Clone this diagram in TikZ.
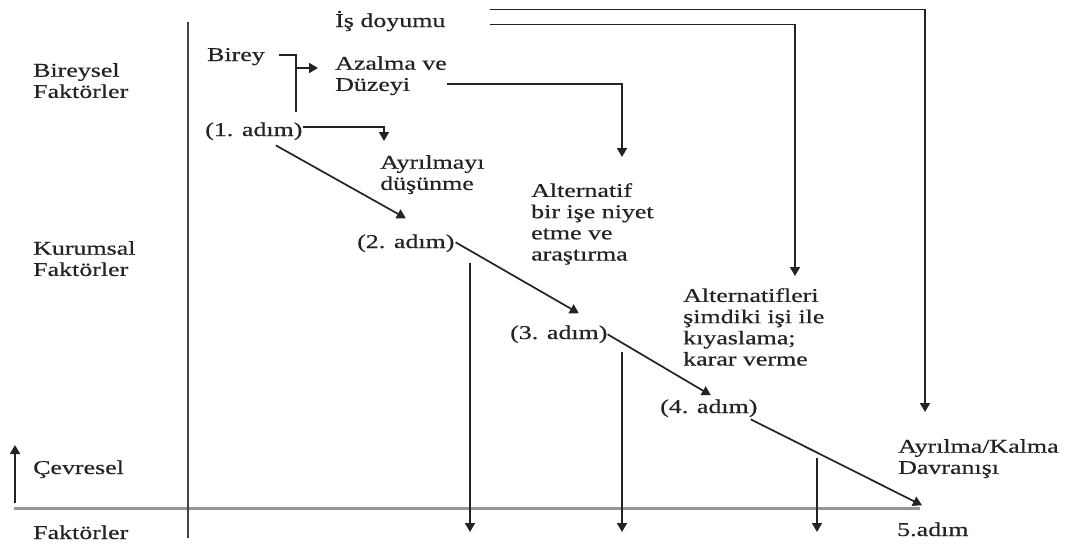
\documentclass[tikz,border=0pt]{standalone}
\usepackage{fontspec}
\setmainfont[FakeStretch=1.33,FakeBold=0.5]{Liberation Serif}
\usepackage{tikz}
\usetikzlibrary{calc,arrows.meta}
\definecolor{inkgrey}{RGB}{35,35,35}
\definecolor{axisgrey}{RGB}{150,150,150}
\tikzset{
  lbl/.style ={inner sep=0pt, align=left, text=inkgrey,
               font=\fontsize{19.5}{21.2}\selectfont},
  ln/.style  ={line width=1.7pt, inkgrey},
  arr/.style ={ln, -{Triangle[length=9pt,width=10pt]}},
  axisln/.style={line width=3pt, axisgrey},
  sepln/.style ={line width=2pt, inkgrey!85},
}
\begin{document}
\begin{tikzpicture}[x=1pt,y=-1pt]
  \useasboundingbox (0,0) rectangle (1072,544);
  % left column
  \node[lbl, anchor=north west] (bireysel) at (33,63) {Bireysel\\Faktörler};
  \node[lbl, anchor=north west] (kurumsal) at (33,241) {Kurumsal\\Faktörler};
  \node[lbl, anchor=base west] (cevresel) at (33,474) {Çevresel};
  \node[lbl, anchor=base west] (faktorler) at (33,539) {Faktörler};
  % steps
  \node[lbl, anchor=base west] (doyum) at (335,27) {İş doyumu};
  \node[lbl, anchor=base west] (birey) at (207,61) {Birey};
  \node[lbl, anchor=north west] (azalma) at (335,56) {Azalma ve\\Düzeyi};
  \node[lbl, anchor=base west] (adim1) at (205,136) {(1. adım)};
  \node[lbl, anchor=north west] (dusunme) at (380,155) {Ayrılmayı\\düşünme};
  \node[lbl, anchor=north west] (niyet) at (531,183) {Alternatif\\bir işe niyet\\etme ve\\araştırma};
  \node[lbl, anchor=base west] (adim2) at (357,248) {(2. adım)};
  \node[lbl, anchor=north west] (kiyas) at (683,288) {Alternatifleri\\şimdiki işi ile\\kıyaslama;\\karar verme};
  \node[lbl, anchor=base west] (adim3) at (510,339) {(3. adım)};
  \node[lbl, anchor=base west] (adim4) at (660,413) {(4. adım)};
  \node[lbl, anchor=north west] (davranis) at (898,439) {Ayrılma/Kalma\\Davranışı};
  \node[lbl, anchor=base west] (adim5) at (897,536) {5.adım};
  % frame lines
  \coordinate (ax0) at (14,508);
  \coordinate (ax1) at (920,508);
  \draw[axisln] (ax0) -- (ax1);
  \draw[sepln] (188,22) -- (188,538);
  \draw[arr] (15,503) -- (15,445);
  % feedback lines
  \coordinate (endA) at (925,412);
  \coordinate (endB) at (795,276);
  \coordinate (endC) at (622,157);
  \coordinate (endD) at (384,141);
  \coordinate (bj) at (296,68);
  \draw[arr] ($(doyum.east)+(44,-11.5)$) -| (endA);
  \draw[arr] ($(doyum.east)+(44,3.5)$) -| (endB);
  \draw[arr] ($(azalma.south east)+(0,-11)$) -| (endC);
  \draw[ln] ($(birey.east)+(14,-2)$) -| (296,112);
  \draw[arr, shorten >=17pt] (bj) -- (bj -| azalma.west);
  \draw[arr] ($(adim1.east)+(0,-4)$) -| (endD);
  % main path
  \draw[arr] ($(adim1.south)+(22,5)$) -- ($(adim2.north)+(0,-16)$);
  \draw[arr] ($(adim2.east)+(1,-1)$) -- ($(adim3.north)+(20,-12)$);
  \draw[arr] (adim3.east) -- ($(adim4.north)+(2,-4)$);
  \draw[arr] ($(adim4.south)+(42,2)$) -- ($(adim5.north west)+(25,-17)$);
  % exits
  \foreach \px/\py in {470/263, 622/352, 817/458}
    \draw[arr] (\px,\py) -- (\px,532);
\end{tikzpicture}
\end{document}
